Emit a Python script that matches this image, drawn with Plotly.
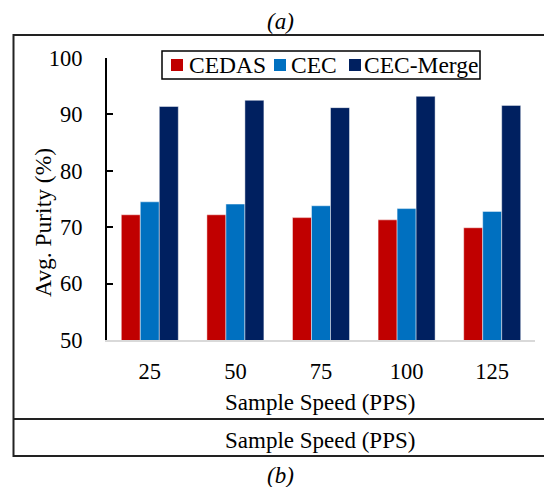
import plotly.graph_objects as go

# ---- data ----
categories = ["25", "50", "75", "100", "125"]
series_names = ["CEDAS", "CEC", "CEC-Merge"]
cedas = [72.2, 72.2, 71.7, 71.3, 69.9]
cec = [74.5, 74.1, 73.8, 73.3, 72.8]
cec_merge = [91.4, 92.5, 91.2, 93.2, 91.6]
series_colors = ["#C00000", "#0070C0", "#002060"]
y_ticks = [50, 60, 70, 80, 90, 100]
x_title = "Sample Speed (PPS)"
y_title = "Avg. Purity (%)"

W, H = 544, 487
L, R, T, B = 107, 9, 58, 147
PW, PH = W - L - R, H - T - B
FONT = "Liberation Serif"


def px(x):
    return (x - L) / PW


def py(y):
    return (H - B - y) / PH


fig = go.Figure()
for name, vals, col in zip(series_names, [cedas, cec, cec_merge], series_colors):
    fig.add_trace(go.Bar(
        x=categories, y=vals, name=name,
        marker=dict(color=col, line=dict(color="rgba(255,255,255,0.45)", width=1)),
        showlegend=False,
    ))

shapes = []
# outer frame
shapes.append(dict(type="rect", xref="paper", yref="paper",
                   x0=px(13.5), x1=px(600), y0=py(456), y1=py(35),
                   line=dict(color="#222", width=2), fillcolor="rgba(0,0,0,0)", layer="below"))
shapes.append(dict(type="line", xref="paper", yref="paper",
                   x0=px(13.5), x1=px(600), y0=py(419), y1=py(419),
                   line=dict(color="#222", width=2)))
# legend box
shapes.append(dict(type="rect", xref="paper", yref="paper",
                   x0=px(162), x1=px(480), y0=py(79), y1=py(51),
                   line=dict(color="black", width=1.5), fillcolor="white"))

annotations = []
leg_sq_x = [171, 274, 349]
leg_txt_x = [186.5, 289, 361.5]
for name, col, sx, tx in zip(series_names, series_colors, leg_sq_x, leg_txt_x):
    shapes.append(dict(type="rect", xref="paper", yref="paper",
                       x0=px(sx), x1=px(sx + 12), y0=py(71), y1=py(59),
                       line=dict(width=0), fillcolor=col))
    annotations.append(dict(text=name, xref="paper", yref="paper",
                            x=px(tx), y=py(65), xanchor="left", yanchor="middle",
                            showarrow=False, font=dict(family=FONT, size=23.5, color="black")))

annotations += [
    dict(text="<i>(a)</i>", xref="paper", yref="paper", x=px(280), y=py(21),
         xanchor="center", yanchor="middle", showarrow=False,
         font=dict(family=FONT, size=23, color="black")),
    dict(text="<i>(b)</i>", xref="paper", yref="paper", x=px(280), y=py(475),
         xanchor="center", yanchor="middle", showarrow=False,
         font=dict(family=FONT, size=23, color="black")),
    dict(text=x_title, xref="paper", yref="paper", x=px(320), y=py(402),
         xanchor="center", yanchor="middle", showarrow=False,
         font=dict(family=FONT, size=23, color="black")),
    dict(text=x_title, xref="paper", yref="paper", x=px(320), y=py(440),
         xanchor="center", yanchor="middle", showarrow=False,
         font=dict(family=FONT, size=23, color="black")),
    dict(text=y_title, xref="paper", yref="paper", x=px(43), y=py(223),
         xanchor="center", yanchor="middle", showarrow=False, textangle=-90,
         font=dict(family=FONT, size=23.5, color="black")),
]

fig.update_layout(
    width=W, height=H,
    margin=dict(l=L, r=R, t=T, b=B, autoexpand=False),
    paper_bgcolor="white", plot_bgcolor="white",
    barmode="group", bargap=0.334, bargroupgap=0,
    font=dict(family=FONT, size=22, color="black"),
    shapes=shapes, annotations=annotations,
    showlegend=False,
)
fig.update_xaxes(
    type="category", showline=True, linecolor="#d9d9d9", linewidth=2,
    ticks="", showgrid=False, zeroline=False,
    tickfont=dict(family=FONT, size=22.5, color="black"),
    ticklabelstandoff=10,
)
fig.update_yaxes(
    range=[50, 100], tickvals=y_ticks, showline=True, linecolor="black", linewidth=2,
    ticks="inside", ticklen=6, tickwidth=2, tickcolor="black",
    showgrid=False, zeroline=False,
    tickfont=dict(family=FONT, size=22.5, color="black"),
    ticklabelstandoff=18,
)

fig.write_html("out.html", config={"displayModeBar": False},
               post_script="document.body.style.margin='0';document.body.style.padding='0';")
